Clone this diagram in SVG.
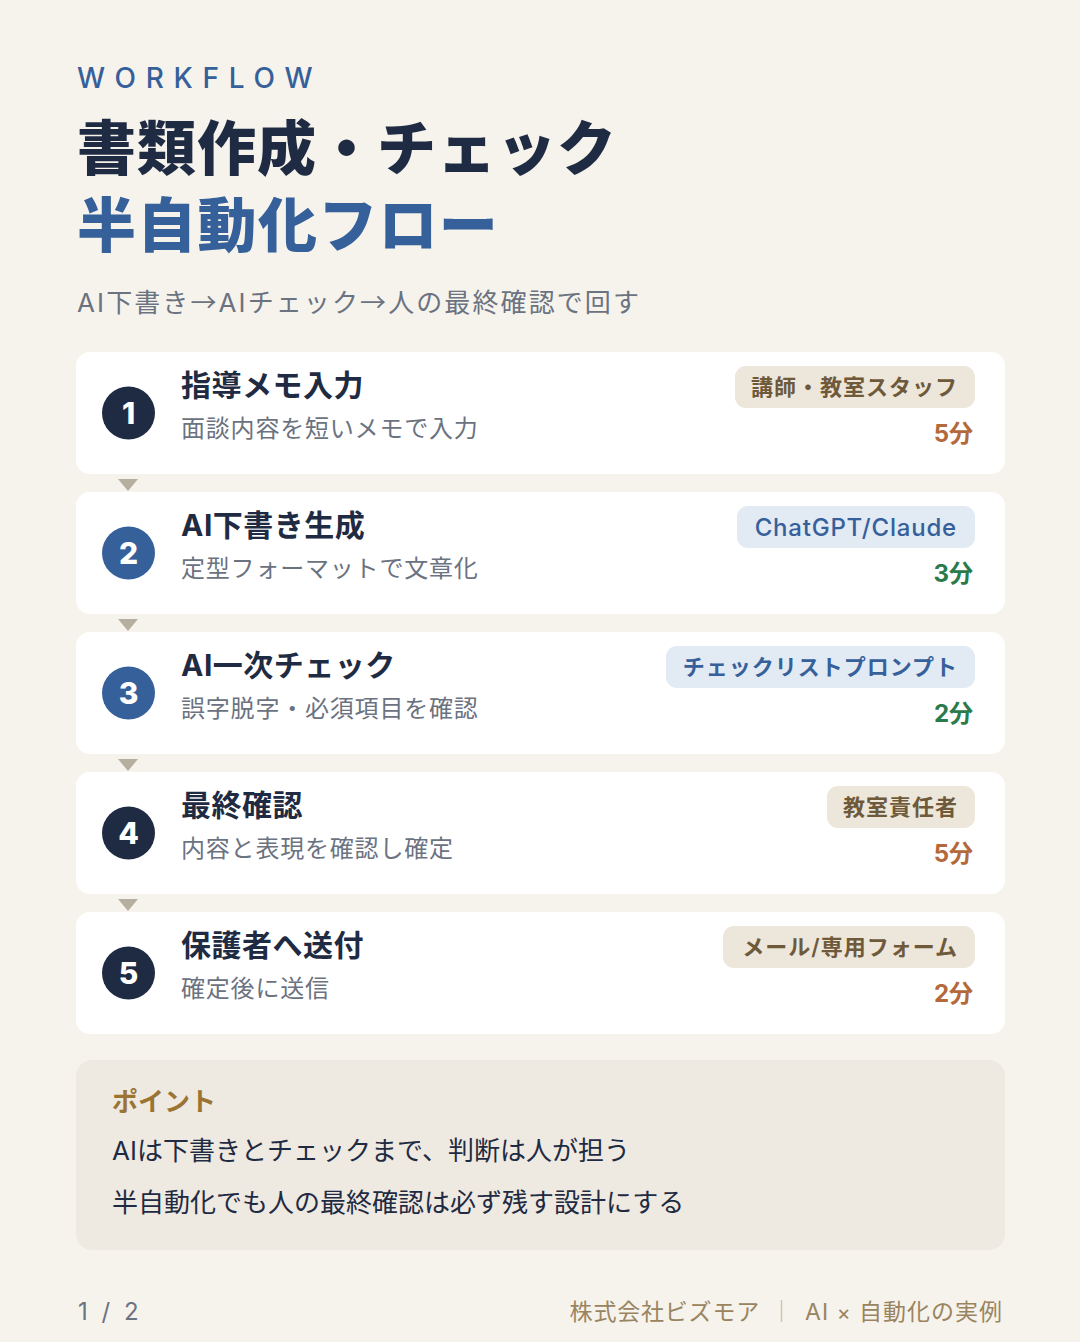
<svg xmlns="http://www.w3.org/2000/svg" width="1080" height="1342" viewBox="0 0 1080 1342">
<defs>
<style>
text{font-family:"Inter","Noto Sans CJK JP","Noto Sans",sans-serif}
.card{fill:#ffffff}
.tri{fill:#b6ae9f}
.ndark{fill:#1f2b42}
.nblue{fill:#36609a}
.num{fill:#ffffff;font-size:30px;font-weight:800;text-anchor:middle}
.ttl{fill:#1f2b42;font-size:30px;font-weight:700;letter-spacing:0.5px}
.desc{fill:#6b7280;font-size:24px;letter-spacing:0.8px}
.bbeige{fill:#ede6da}
.bblue{fill:#e2eaf4}
.tbeige{fill:#6e5a3b;font-size:22px;font-weight:600;letter-spacing:1px;text-anchor:end}
.tblue{fill:#36609a;font-size:22px;font-weight:600;letter-spacing:1px;text-anchor:end}
.time{font-size:24px;font-weight:700;text-anchor:end}
.orange{fill:#b3693a}
.green{fill:#2a7a4b}
text.sub{font-family:"Noto Sans CJK JP",sans-serif}
tspan.lat{font-family:"Inter",sans-serif}
</style>
</defs>
<rect x="0" y="0" width="1080" height="1342" fill="#f6f3ed"/>

<g id="header">
<text x="77" y="88" font-size="28" font-weight="500" letter-spacing="9.7" fill="#36609a">WORKFLOW</text>
<text x="77" y="170" font-size="59" font-weight="900" letter-spacing="1" fill="#1f2b42">書類作成・チェック</text>
<text x="77" y="247" font-size="59" font-weight="900" letter-spacing="1.3" fill="#36609a">半自動化フロー</text>
<text class="sub" x="77" y="312" font-size="26" fill="#6b7280" letter-spacing="2.1"><tspan class="lat">AI</tspan>下書き→<tspan class="lat">AI</tspan>チェック→人の最終確認で回す</text>
</g>

<g id="connectors">
<polygon class="tri" points="118,479 138,479 128,491"/>
<polygon class="tri" points="118,619 138,619 128,631"/>
<polygon class="tri" points="118,759 138,759 128,771"/>
<polygon class="tri" points="118,899 138,899 128,911"/>
</g>

<g id="step1">
<rect class="card" x="76" y="352" width="929" height="122" rx="14"/>
<circle class="ndark" cx="128.5" cy="413" r="26.5"/>
<text class="num" x="128.5" y="424">1</text>
<text class="ttl" x="181" y="396">指導メモ入力</text>
<text class="desc" x="181" y="437">面談内容を短いメモで入力</text>
<rect class="bbeige" x="735" y="366" width="240" height="42" rx="11"/>
<text class="tbeige" x="958" y="395">講師・教室スタッフ</text>
<text class="time orange" x="973" y="442">5分</text>
</g>

<g id="step2">
<rect class="card" x="76" y="492" width="929" height="122" rx="14"/>
<circle class="nblue" cx="128.5" cy="553" r="26.5"/>
<text class="num" x="128.5" y="564">2</text>
<text class="ttl" x="181" y="536">AI下書き生成</text>
<text class="desc" x="181" y="577">定型フォーマットで文章化</text>
<rect class="bblue" x="737" y="506" width="238" height="42" rx="11"/>
<text class="tblue" x="957" y="535.5" style="font-size:24px;font-weight:500;letter-spacing:0.8px">ChatGPT/Claude</text>
<text class="time green" x="973" y="582">3分</text>
</g>

<g id="step3">
<rect class="card" x="76" y="632" width="929" height="122" rx="14"/>
<circle class="nblue" cx="128.5" cy="693" r="26.5"/>
<text class="num" x="128.5" y="704">3</text>
<text class="ttl" x="181" y="676">AI一次チェック</text>
<text class="desc" x="181" y="717">誤字脱字・必須項目を確認</text>
<rect class="bblue" x="666" y="646" width="309" height="42" rx="11"/>
<text class="tblue" x="958" y="675">チェックリストプロンプト</text>
<text class="time green" x="973" y="722">2分</text>
</g>

<g id="step4">
<rect class="card" x="76" y="772" width="929" height="122" rx="14"/>
<circle class="ndark" cx="128.5" cy="833" r="26.5"/>
<text class="num" x="128.5" y="844">4</text>
<text class="ttl" x="181" y="816">最終確認</text>
<text class="desc" x="181" y="857">内容と表現を確認し確定</text>
<rect class="bbeige" x="827" y="786" width="148" height="42" rx="11"/>
<text class="tbeige" x="958" y="815">教室責任者</text>
<text class="time orange" x="973" y="862">5分</text>
</g>

<g id="step5">
<rect class="card" x="76" y="912" width="929" height="122" rx="14"/>
<circle class="ndark" cx="128.5" cy="973" r="26.5"/>
<text class="num" x="128.5" y="984">5</text>
<text class="ttl" x="181" y="956">保護者へ送付</text>
<text class="desc" x="181" y="997">確定後に送信</text>
<rect class="bbeige" x="723" y="926" width="252" height="42" rx="11"/>
<text class="tbeige" x="958" y="955">メール/専用フォーム</text>
<text class="time orange" x="973" y="1002">2分</text>
</g>

<g id="point">
<rect x="76" y="1060" width="929" height="190" rx="16" fill="#eee9e1"/>
<text x="112" y="1111" font-size="26" font-weight="700" fill="#9b7434">ポイント</text>
<text x="112" y="1160" font-size="26" fill="#1f2b42">AIは下書きとチェックまで、判断は人が担う</text>
<text x="112" y="1212" font-size="26" fill="#1f2b42">半自動化でも人の最終確認は必ず残す設計にする</text>
</g>

<g id="footer">
<text x="78" y="1320" font-size="24" fill="#6b7280" letter-spacing="3.5">1 / 2</text>
<text x="760" y="1320" font-size="23" fill="#9a845f" text-anchor="end" letter-spacing="0.8">株式会社ビズモア</text>
<line x1="781.5" y1="1300" x2="781.5" y2="1322" stroke="#cfc5b3" stroke-width="1.5"/>
<text x="1003" y="1320" font-size="23" fill="#9a845f" text-anchor="end" letter-spacing="1">AI <tspan font-size="21">×</tspan> 自動化の実例</text>
</g>
</svg>
